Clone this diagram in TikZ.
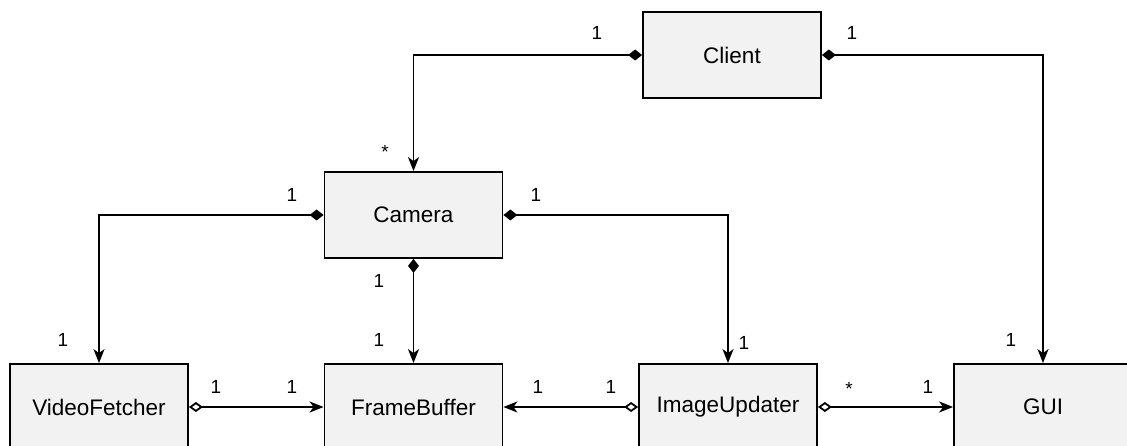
\documentclass[tikz,border=0pt]{standalone}
\usepackage{fontspec}
\setmainfont{Liberation Sans}
\usetikzlibrary{arrows.meta}
\begin{document}
\begin{tikzpicture}[x=1pt,y=-1pt,
  box/.style={draw=black,line width=1.8pt,fill=gray!10,minimum width=178pt,minimum height=86pt,inner sep=0pt,font=\fontsize{22.5}{26}\selectfont},
  lbl/.style={font=\fontsize{19}{22}\selectfont,inner sep=0pt},
  conn/.style={line width=1.8pt},
  comp/.style={conn,{Diamond[length=14pt,width=11pt]}-{Stealth[length=14pt,width=11pt,inset=4pt]}},
  aggr/.style={conn,{Diamond[open,fill=white,length=14pt,width=10pt]}-{Stealth[length=14pt,width=11pt,inset=4pt]}}]
\useasboundingbox (0,0) rectangle (1127,446);
\clip (0,0) rectangle (1127,446);
\node[box] (client) at (732,55) {Client};
\node[box] (camera) at (413.5,215) {Camera};
\node[box] (vf) at (99,407) {VideoFetcher};
\node[box] (fb) at (413.5,407) {FrameBuffer};
\node[box] (iu) at (728,407) {ImageUpdater};
\node[box] (gui) at (1043,407) {GUI};
\draw[comp] (client.west) -| (camera.north);
\draw[comp] (client.east) -| (gui.north);
\draw[comp] (camera.west) -| (vf.north);
\draw[comp] (camera.east) -| (iu.north);
\draw[comp] (camera.south) -- (fb.north);
\draw[aggr] (vf.east) -- (fb.west);
\draw[aggr] (iu.west) -- (fb.east);
\draw[aggr] (iu.east) -- (gui.west);
\node[lbl] (l1) at (597,33) {1};
\node[lbl] (l2) at (852,33) {1};
\node[lbl] (l3) at (385,152) {*};
\node[lbl] (l4) at (292,195) {1};
\node[lbl] (l5) at (536,195) {1};
\node[lbl] (l6) at (379,281) {1};
\node[lbl] (l7) at (379,340) {1};
\node[lbl] (l8) at (63,340) {1};
\node[lbl] (l9) at (744,343) {1};
\node[lbl] (l10) at (1011,340) {1};
\node[lbl] (l11) at (216,387) {1};
\node[lbl] (l12) at (292,387) {1};
\node[lbl] (l13) at (538,387) {1};
\node[lbl] (l14) at (611,387) {1};
\node[lbl] (l15) at (849,389) {*};
\node[lbl] (l16) at (928,387) {1};
\end{tikzpicture}
\end{document}
